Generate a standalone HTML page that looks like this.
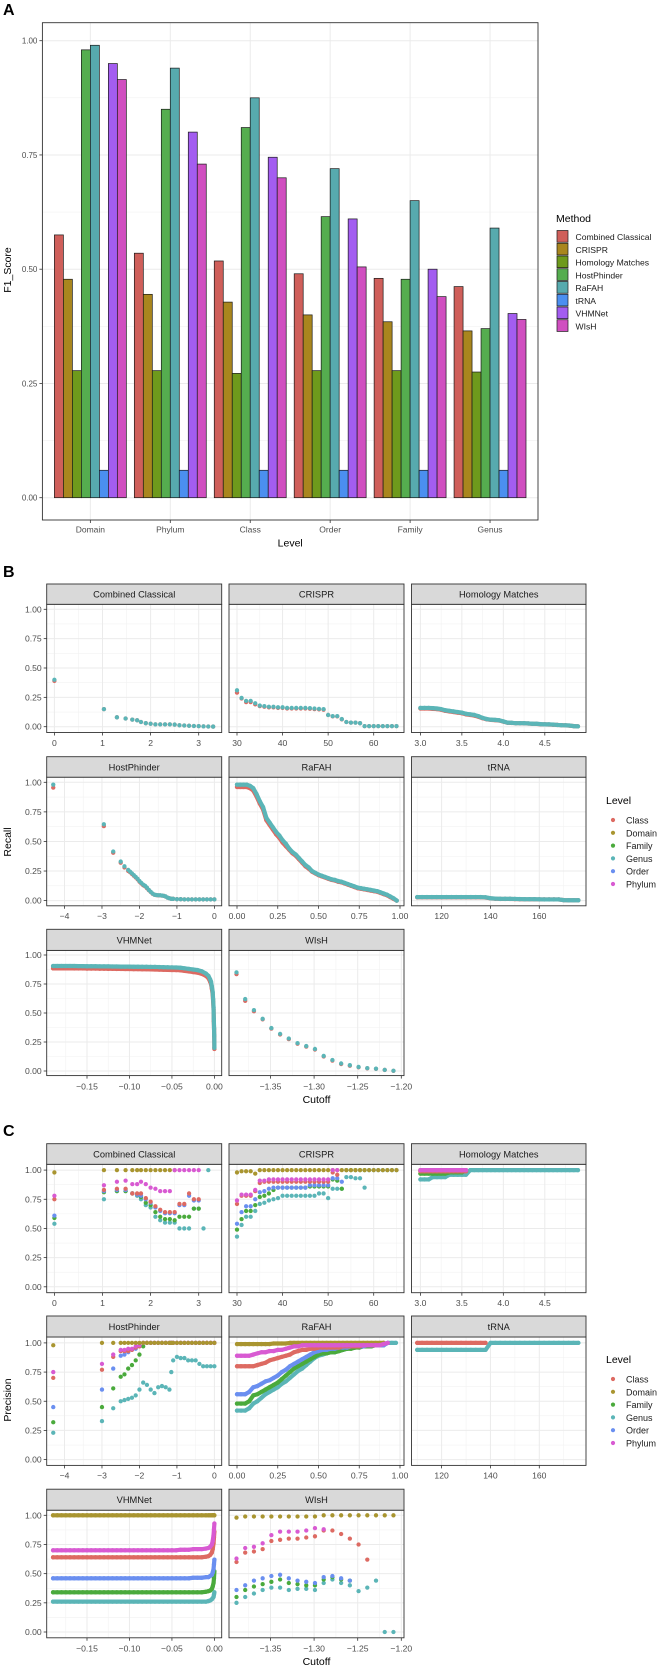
<!DOCTYPE html>
<html><head><meta charset="utf-8"><style>
html,body{margin:0;padding:0;background:#fff}
svg{display:block;font-family:"Liberation Sans",sans-serif}
</style></head><body>
<svg id="fig" width="664" height="1667" viewBox="0 0 664 1667" xmlns="http://www.w3.org/2000/svg"></svg>
<script>
// ---------- Panel A data ----------
const levelsA = ["Domain","Phylum","Class","Order","Family","Genus"];
const methods = ["Combined Classical","CRISPR","Homology Matches","HostPhinder","RaFAH","tRNA","VHMNet","WIsH"];
const f1CombinedClassical = [0.575,0.535,0.518,0.490,0.480,0.462];
const f1CRISPR = [0.478,0.445,0.428,0.400,0.385,0.365];
const f1Homology = [0.278,0.278,0.272,0.278,0.278,0.275];
const f1HostPhinder = [0.980,0.850,0.810,0.615,0.478,0.370];
const f1RaFAH = [0.990,0.940,0.875,0.720,0.650,0.590];
const f1tRNA = [0.060,0.060,0.060,0.060,0.060,0.060];
const f1VHMNet = [0.950,0.800,0.745,0.610,0.500,0.403];
const f1WIsH = [0.915,0.730,0.700,0.505,0.440,0.390];
const yTicksA = [0,0.25,0.5,0.75,1.0];
const yTickLabelsA = ["0.00","0.25","0.50","0.75","1.00"];

// ---------- Facet data (B: Recall, C: Precision) ----------
const levelNames = ["Class","Domain","Family","Genus","Order","Phylum"];
// Recall
const rCC_x = [0,1.03,1.3,1.48,1.62,1.72,1.8,1.9,2.0,2.1,2.2,2.3,2.4,2.5,2.6,2.7,2.8,2.9,3.0,3.1,3.2,3.3];
const rCC_genus = [0.40,0.15,0.08,0.07,0.06,0.055,0.04,0.03,0.025,0.02,0.02,0.02,0.02,0.018,0.012,0.01,0.008,0.006,0.005,0.003,0.002,0.001];
const rCC_class = [0.39,0.15,0.08,0.07,0.06,0.055,0.04,0.03,0.025,0.02,0.02,0.02,0.02,0.018,0.012,0.01,0.008,0.006,0.005,0.003,0.002,0.001];
const rCR_x = [30,31,32,33,34,35,36,37,38,39,40,41,42,43,44,45,46,47,48,49,50,51,52,53,54,55,56,57,58,59,60,61,62,63,64,65];
const rCR_genus = [0.31,0.245,0.22,0.22,0.20,0.18,0.175,0.17,0.17,0.165,0.165,0.16,0.16,0.16,0.16,0.16,0.158,0.155,0.152,0.15,0.10,0.09,0.09,0.065,0.04,0.035,0.035,0.03,0.005,0.005,0.005,0.005,0.005,0.005,0.005,0.005];
const rCR_class = [0.29,0.24,0.21,0.21,0.19,0.175,0.17,0.165,0.165,0.16,0.16,0.155,0.155,0.155,0.155,0.155,0.153,0.15,0.148,0.145,0.10,0.088,0.088,0.063,0.04,0.035,0.035,0.03,0.005,0.005,0.005,0.005,0.005,0.005,0.005,0.005];
const rHM_x = [3.0,3.05,3.1,3.15,3.2,3.25,3.3,3.35,3.4,3.45,3.5,3.55,3.6,3.65,3.7,3.75,3.8,3.85,3.9,3.95,4.0,4.05,4.1,4.15,4.2,4.25,4.3,4.35,4.4,4.45,4.5,4.55,4.6,4.65,4.7,4.75,4.8,4.85,4.9];
const rHM_genus = [0.16,0.16,0.16,0.158,0.155,0.15,0.14,0.135,0.13,0.125,0.12,0.11,0.105,0.10,0.09,0.075,0.065,0.06,0.058,0.055,0.045,0.035,0.033,0.03,0.03,0.03,0.028,0.025,0.025,0.022,0.02,0.02,0.018,0.015,0.013,0.012,0.01,0.005,0.003];
const rHM_class = [0.155,0.155,0.155,0.152,0.15,0.145,0.135,0.13,0.125,0.12,0.115,0.105,0.1,0.095,0.085,0.072,0.063,0.058,0.056,0.053,0.043,0.034,0.032,0.03,0.03,0.029,0.027,0.025,0.024,0.021,0.02,0.019,0.017,0.015,0.013,0.011,0.009,0.005,0.003];
const rHP_x = [-4.3,-2.95,-2.7,-2.5,-2.4,-2.3,-2.25,-2.2,-2.15,-2.1,-2.05,-2.0,-1.95,-1.9,-1.85,-1.8,-1.75,-1.7,-1.65,-1.6,-1.55,-1.5,-1.45,-1.4,-1.35,-1.3,-1.25,-1.2,-1.15,-1.1,-1.0,-0.9,-0.8,-0.7,-0.6,-0.5,-0.4,-0.3,-0.2,-0.1,0];
const rHP_genus = [0.98,0.645,0.415,0.33,0.29,0.26,0.245,0.23,0.215,0.2,0.185,0.165,0.15,0.135,0.125,0.11,0.09,0.075,0.06,0.05,0.047,0.045,0.045,0.043,0.04,0.035,0.025,0.02,0.015,0.015,0.012,0.012,0.01,0.01,0.01,0.01,0.01,0.01,0.01,0.01,0.01];
const rHP_class = [0.955,0.63,0.405,0.32,0.28,0.25,0.24,0.225,0.21,0.195,0.18,0.16,0.145,0.13,0.12,0.105,0.088,0.073,0.058,0.05,0.046,0.044,0.044,0.042,0.04,0.034,0.025,0.02,0.015,0.015,0.012,0.012,0.01,0.01,0.01,0.01,0.01,0.01,0.01,0.01,0.01];
const rRA_x = [0,0.02,0.04,0.06,0.08,0.1,0.12,0.14,0.16,0.18,0.2,0.22,0.24,0.26,0.28,0.3,0.32,0.34,0.36,0.38,0.4,0.42,0.44,0.46,0.48,0.5,0.52,0.54,0.56,0.58,0.6,0.62,0.64,0.66,0.68,0.7,0.72,0.74,0.76,0.78,0.8,0.82,0.84,0.86,0.88,0.9,0.92,0.94,0.96,0.98];
const rRA_genus = [0.98,0.98,0.98,0.98,0.97,0.95,0.90,0.84,0.79,0.70,0.66,0.62,0.58,0.55,0.51,0.48,0.44,0.41,0.39,0.36,0.33,0.30,0.28,0.25,0.235,0.22,0.21,0.20,0.19,0.18,0.175,0.165,0.16,0.15,0.14,0.13,0.12,0.11,0.105,0.10,0.095,0.09,0.085,0.08,0.07,0.06,0.05,0.035,0.02,0.0];
const rRA_class = [0.96,0.96,0.96,0.96,0.95,0.93,0.88,0.82,0.77,0.68,0.64,0.60,0.56,0.53,0.49,0.46,0.43,0.40,0.38,0.35,0.32,0.29,0.27,0.245,0.23,0.215,0.205,0.195,0.185,0.175,0.17,0.16,0.155,0.145,0.135,0.125,0.115,0.105,0.1,0.095,0.09,0.085,0.08,0.075,0.065,0.055,0.045,0.03,0.015,0.0];
const rTR_x = [110,112,114,116,118,120,122,124,126,128,130,132,134,136,138,140,142,144,146,148,150,152,154,156,158,160,162,164,166,168,170,172,174,176];
const rTR_genus = [0.03,0.03,0.03,0.03,0.03,0.03,0.03,0.03,0.03,0.03,0.03,0.03,0.03,0.03,0.028,0.02,0.017,0.015,0.015,0.015,0.014,0.013,0.012,0.012,0.012,0.011,0.01,0.01,0.01,0.01,0.004,0.003,0.003,0.003];
const rTR_class = [0.028,0.028,0.028,0.028,0.028,0.028,0.028,0.028,0.028,0.028,0.028,0.028,0.028,0.028,0.026,0.019,0.016,0.014,0.014,0.014,0.013,0.012,0.011,0.011,0.011,0.01,0.01,0.01,0.01,0.01,0.004,0.003,0.003,0.003];
const rVH_x = [-0.19,-0.185,-0.18,-0.175,-0.17,-0.165,-0.16,-0.155,-0.15,-0.145,-0.14,-0.135,-0.13,-0.125,-0.12,-0.115,-0.11,-0.105,-0.1,-0.095,-0.09,-0.085,-0.08,-0.075,-0.07,-0.065,-0.06,-0.055,-0.05,-0.045,-0.04,-0.035,-0.03,-0.025,-0.02,-0.015,-0.01,-0.007,-0.005,-0.004,-0.003,-0.002,-0.0015,-0.001,-0.0007,-0.0004,-0.0002,0];
const rVH_genus = [0.905,0.905,0.905,0.905,0.905,0.905,0.904,0.904,0.903,0.903,0.903,0.902,0.902,0.902,0.901,0.901,0.9,0.9,0.9,0.899,0.899,0.898,0.898,0.897,0.897,0.896,0.895,0.894,0.893,0.892,0.89,0.885,0.88,0.875,0.87,0.86,0.84,0.82,0.79,0.77,0.73,0.68,0.62,0.55,0.45,0.37,0.31,0.2];
const rVH_class = [0.885,0.885,0.885,0.885,0.885,0.884,0.884,0.884,0.883,0.883,0.883,0.882,0.882,0.881,0.881,0.88,0.88,0.879,0.879,0.878,0.878,0.877,0.877,0.876,0.875,0.874,0.873,0.872,0.871,0.87,0.868,0.863,0.858,0.853,0.848,0.838,0.82,0.80,0.77,0.75,0.71,0.66,0.60,0.53,0.43,0.36,0.30,0.19];
const rWI_x = [-1.389,-1.379,-1.369,-1.359,-1.349,-1.339,-1.329,-1.319,-1.309,-1.299,-1.289,-1.279,-1.269,-1.259,-1.249,-1.239,-1.229,-1.219,-1.209];
const rWI_genus = [0.85,0.62,0.525,0.45,0.37,0.32,0.28,0.24,0.215,0.19,0.13,0.095,0.065,0.05,0.035,0.025,0.02,0.01,0.002];
const rWI_class = [0.835,0.605,0.515,0.445,0.365,0.315,0.275,0.235,0.21,0.185,0.125,0.09,0.06,0.045,0.032,0.023,0.018,0.009,0.001];
// Precision
const pCC_x = [0,1.03,1.3,1.48,1.62,1.72,1.8,1.9,2.0,2.1,2.2,2.3,2.4,2.5,2.6,2.7,2.8,2.9,3.0,3.1,3.2];
const pCC_domain = [0.98,1,1,1,1,1,1,1,1,1,1,1,1,1,null,null,null,null,null,null,null];
const pCC_phylum = [0.78,0.87,0.90,0.91,0.88,0.88,0.90,0.88,0.85,0.84,0.82,0.82,0.82,1,1,1,1,1,1,null,null];
const pCC_class = [0.75,0.83,0.84,0.84,0.80,0.80,0.80,0.76,0.73,0.69,0.66,0.64,0.64,0.64,0.71,0.71,0.80,0.75,0.75,null,null];
const pCC_order = [0.61,0.82,0.83,0.83,0.80,0.79,0.78,0.75,0.72,0.68,0.65,0.63,0.63,0.63,0.70,0.70,0.78,0.74,0.74,null,null];
const pCC_family = [0.59,0.81,0.82,0.82,0.80,0.79,0.77,0.72,0.70,0.64,0.60,0.58,0.58,0.57,0.60,0.60,0.60,0.67,0.67,null,null];
const pCC_genus = [0.54,0.75,0.82,0.82,0.80,0.78,0.75,0.70,0.68,0.60,0.57,0.55,0.55,0.55,0.50,0.50,0.50,0.67,0.67,0.50,1.0];
const pCR_x = [30,31,32,33,34,35,36,37,38,39,40,41,42,43,44,45,46,47,48,49,50,51,52,53,54,55,56,57,58,59,60,61,62,63,64,65];
const pCR_domain = [0.98,0.99,0.99,0.99,0.97,1,1,1,1,1,1,1,1,1,1,1,1,1,1,1,1,1,1,1,1,1,1,1,1,1,1,1,1,1,1,1];
const pCR_phylum = [0.74,0.79,0.79,0.79,0.83,0.91,0.91,0.92,0.92,0.92,0.92,0.92,0.92,0.92,0.92,0.92,0.92,0.92,0.92,0.92,0.92,1,1,null,null,null,null,null,null,null,null,null,null,null,null,null];
const pCR_class = [0.71,0.78,0.78,0.78,0.82,0.89,0.90,0.90,0.90,0.90,0.90,0.90,0.90,0.90,0.90,0.90,0.90,0.90,0.90,0.90,0.90,0.98,0.96,null,null,null,null,null,null,null,null,null,null,null,null,null];
const pCR_order = [0.54,0.64,0.69,0.69,0.75,0.81,0.82,0.84,0.85,0.85,0.85,0.85,0.85,0.85,0.85,0.85,0.87,0.87,0.87,0.87,0.87,0.93,0.93,0.90,null,null,null,null,null,null,null,null,null,null,null,null];
const pCR_family = [0.49,0.58,0.65,0.65,0.70,0.77,0.78,0.80,0.83,0.85,0.85,0.85,0.85,0.85,0.85,0.85,0.86,0.86,0.86,0.86,0.86,0.92,0.91,0.84,1,1,1,1,1,null,null,null,null,null,null,null];
const pCR_genus = [0.43,0.53,0.60,0.60,0.65,0.71,0.72,0.74,0.75,0.76,0.78,0.78,0.78,0.78,0.78,0.78,0.78,0.78,0.80,0.80,0.76,0.84,0.84,0.84,0.94,0.94,0.93,0.93,0.85,1,1,1,1,1,1,1];
const pHM_x = [3.0,3.05,3.1,3.15,3.2,3.25,3.3,3.35,3.4,3.45,3.5,3.55,3.6,3.65,3.7,3.75,3.8,3.85,3.9,3.95,4.0,4.05,4.1,4.15,4.2,4.25,4.3,4.35,4.4,4.45,4.5,4.55,4.6,4.65,4.7,4.75,4.8,4.85,4.9];
const pHM_domain = [1,1,1,1,1,1,1,1,1,1,1,1,null,null,null,null,null,null,null,null,null,null,null,null,null,null,null,null,null,null,null,null,null,null,null,null,null,null,null];
const pHM_phylum = [1,1,1,1,1,1,1,1,1,1,1,1,null,null,null,null,null,null,null,null,null,null,null,null,null,null,null,null,null,null,null,null,null,null,null,null,null,null,null];
const pHM_class = [0.99,0.99,0.99,0.99,0.99,0.99,0.99,0.99,0.99,0.99,0.99,0.99,null,null,null,null,null,null,null,null,null,null,null,null,null,null,null,null,null,null,null,null,null,null,null,null,null,null,null];
const pHM_family = [0.97,0.97,0.97,0.97,0.97,0.97,0.97,0.98,0.98,0.98,0.98,1,null,null,null,null,null,null,null,null,null,null,null,null,null,null,null,null,null,null,null,null,null,null,null,null,null,null,null];
const pHM_genus = [0.92,0.92,0.92,0.94,0.94,0.94,0.94,0.96,0.96,0.96,0.96,0.96,1,1,1,1,1,1,1,1,1,1,1,1,1,1,1,1,1,1,1,1,1,1,1,1,1,1,1];
const pHP_x = [-4.3,-3.0,-2.7,-2.5,-2.4,-2.3,-2.2,-2.1,-2.0,-1.9,-1.8,-1.7,-1.6,-1.5,-1.4,-1.3,-1.2,-1.15,-1.1,-1.0,-0.9,-0.8,-0.7,-0.6,-0.5,-0.4,-0.3,-0.2,-0.1,0];
const pHP_domain = [0.98,1,1,1,1,1,1,1,1,1,1,1,1,1,1,1,1,1,1,1,1,1,1,1,1,1,1,1,1,1];
const pHP_phylum = [0.75,0.82,0.90,0.94,0.94,0.95,0.95,0.97,0.98,1,1,1,1,1,1,1,1,1,1,1,1,1,1,1,1,1,1,1,1,1];
const pHP_class = [0.70,0.77,0.88,0.93,0.93,0.93,0.94,0.96,0.97,1,1,1,1,1,1,1,1,1,1,1,1,1,1,1,1,1,1,1,1,1];
const pHP_order = [0.45,0.60,0.78,0.89,0.90,0.92,0.94,0.95,0.97,1,1,1,1,1,1,1,1,1,1,1,1,1,1,1,1,1,1,1,1,1];
const pHP_family = [0.32,0.45,0.61,0.71,0.73,0.78,0.81,0.85,0.90,0.97,1,1,1,1,1,1,1,1,1,1,1,1,1,1,1,1,1,1,1,1];
const pHP_genus = [0.23,0.33,0.44,0.50,0.51,0.52,0.53,0.55,0.60,0.66,0.64,0.60,0.57,0.62,0.63,0.62,0.60,0.75,0.85,0.88,0.87,0.87,0.85,0.85,0.85,0.82,0.80,0.80,0.80,0.80];
const pRA_x = [0,0.025,0.05,0.075,0.1,0.125,0.15,0.175,0.2,0.225,0.25,0.275,0.3,0.325,0.35,0.375,0.4,0.425,0.45,0.475,0.5,0.525,0.55,0.575,0.6,0.625,0.65,0.675,0.7,0.725,0.75,0.775,0.8,0.825,0.85,0.875,0.9,0.925,0.95,0.975];
const pRA_domain = [0.99,0.99,0.99,0.99,0.99,0.99,0.99,0.99,0.99,0.995,0.995,0.995,0.995,1,1,1,1,1,1,1,1,1,1,1,1,1,1,1,1,1,1,1,1,1,1,1,1,null,null,null];
const pRA_phylum = [0.89,0.89,0.89,0.89,0.90,0.91,0.92,0.92,0.93,0.93,0.94,0.94,0.95,0.96,0.97,0.97,0.98,0.98,0.98,0.98,0.98,0.98,0.98,0.98,0.98,0.98,0.98,0.98,0.98,0.98,0.98,0.98,0.98,0.98,0.98,0.98,0.99,1,null,null];
const pRA_class = [0.80,0.80,0.80,0.80,0.80,0.81,0.82,0.83,0.85,0.86,0.87,0.88,0.89,0.90,0.92,0.93,0.94,0.94,0.95,0.95,0.96,0.96,0.96,0.96,0.96,0.96,0.97,0.97,0.97,0.97,0.97,0.98,0.98,0.98,0.98,0.99,1,null,null,null];
const pRA_order = [0.56,0.56,0.56,0.58,0.62,0.63,0.65,0.67,0.68,0.70,0.72,0.75,0.77,0.80,0.82,0.84,0.86,0.88,0.90,0.92,0.93,0.94,0.94,0.95,0.95,0.96,0.96,0.96,0.97,0.97,0.97,0.97,0.98,0.98,0.98,0.98,0.98,1,null,null];
const pRA_family = [0.48,0.48,0.48,0.50,0.55,0.56,0.58,0.60,0.62,0.64,0.66,0.69,0.72,0.75,0.78,0.80,0.82,0.84,0.86,0.88,0.90,0.91,0.91,0.92,0.92,0.93,0.94,0.95,0.95,0.96,0.96,0.97,0.97,0.97,0.98,0.98,0.98,null,null,null];
const pRA_genus = [0.42,0.42,0.42,0.44,0.48,0.50,0.53,0.56,0.58,0.60,0.62,0.65,0.67,0.70,0.73,0.76,0.78,0.81,0.84,0.87,0.89,0.90,0.91,0.92,0.92,0.93,0.94,0.95,0.96,0.97,0.97,0.97,0.98,0.98,0.98,0.98,0.99,1,1,1];
const pTR_x = [110,112,114,116,118,120,122,124,126,128,130,132,134,136,138,140,142,144,146,148,150,152,154,156,158,160,162,164,166,168,170,172,174,176];
const pTR_class = [1,1,1,1,1,1,1,1,1,1,1,1,1,1,1,null,null,null,null,null,null,null,null,null,null,null,null,null,null,null,null,null,null,null];
const pTR_genus = [0.94,0.94,0.94,0.94,0.94,0.94,0.94,0.94,0.94,0.94,0.94,0.94,0.94,0.94,0.94,1,1,1,1,1,1,1,1,1,1,1,1,1,1,1,1,1,1,1];
const pVH_x = [-0.19,-0.185,-0.18,-0.175,-0.17,-0.165,-0.16,-0.155,-0.15,-0.145,-0.14,-0.135,-0.13,-0.125,-0.12,-0.115,-0.11,-0.105,-0.1,-0.095,-0.09,-0.085,-0.08,-0.075,-0.07,-0.065,-0.06,-0.055,-0.05,-0.045,-0.04,-0.035,-0.03,-0.025,-0.02,-0.015,-0.01,-0.007,-0.005,-0.003,-0.002,-0.001,-0.0005,0];
const pVH_domain = [1,1,1,1,1,1,1,1,1,1,1,1,1,1,1,1,1,1,1,1,1,1,1,1,1,1,1,1,1,1,1,1,1,1,1,1,1,1,1,1,1,1,1,1];
const pVH_phylum = [0.70,0.70,0.70,0.70,0.70,0.70,0.70,0.70,0.70,0.70,0.70,0.70,0.70,0.70,0.70,0.70,0.70,0.70,0.70,0.70,0.70,0.70,0.70,0.70,0.70,0.70,0.70,0.70,0.70,0.70,0.705,0.705,0.705,0.71,0.71,0.71,0.715,0.72,0.73,0.75,0.78,0.83,0.88,0.93];
const pVH_class = [0.64,0.64,0.64,0.64,0.64,0.64,0.64,0.64,0.64,0.64,0.64,0.64,0.64,0.64,0.64,0.64,0.64,0.64,0.64,0.64,0.64,0.64,0.64,0.64,0.64,0.64,0.64,0.64,0.64,0.64,0.64,0.64,0.64,0.64,0.64,0.64,0.645,0.65,0.66,0.68,0.71,0.76,0.81,0.86];
const pVH_order = [0.46,0.46,0.46,0.46,0.46,0.46,0.46,0.46,0.46,0.46,0.46,0.46,0.46,0.46,0.46,0.46,0.46,0.46,0.46,0.46,0.46,0.46,0.46,0.46,0.46,0.46,0.46,0.46,0.46,0.46,0.46,0.46,0.46,0.465,0.465,0.465,0.47,0.47,0.48,0.49,0.51,0.54,0.58,0.62];
const pVH_family = [0.34,0.34,0.34,0.34,0.34,0.34,0.34,0.34,0.34,0.34,0.34,0.34,0.34,0.34,0.34,0.34,0.34,0.34,0.34,0.34,0.34,0.34,0.34,0.34,0.34,0.34,0.34,0.34,0.34,0.34,0.34,0.34,0.34,0.34,0.34,0.34,0.345,0.35,0.355,0.37,0.39,0.42,0.46,0.52];
const pVH_genus = [0.26,0.26,0.26,0.26,0.26,0.26,0.26,0.26,0.26,0.26,0.26,0.26,0.26,0.26,0.26,0.26,0.26,0.26,0.26,0.26,0.26,0.26,0.26,0.26,0.26,0.26,0.26,0.26,0.26,0.26,0.26,0.26,0.26,0.26,0.26,0.26,0.26,0.265,0.27,0.28,0.29,0.30,0.32,0.34];
const pWI_x = [-1.389,-1.379,-1.369,-1.359,-1.349,-1.339,-1.329,-1.319,-1.309,-1.299,-1.289,-1.279,-1.269,-1.259,-1.249,-1.239,-1.229,-1.219,-1.209];
const pWI_domain = [0.98,0.99,0.99,0.99,0.99,0.99,0.99,0.99,0.99,0.99,1,1,1,1,1,1,1,1,1];
const pWI_phylum = [0.63,0.72,0.73,0.76,0.83,0.86,0.86,0.86,0.87,0.89,0.88,null,null,null,null,null,null,null,null];
const pWI_class = [0.60,0.68,0.69,0.71,0.78,0.79,0.80,0.80,0.81,0.82,0.87,0.87,0.84,0.80,0.75,0.62,null,null,null];
const pWI_order = [0.36,0.40,0.44,0.46,0.48,0.49,0.46,0.44,0.43,0.42,0.47,0.48,0.46,0.44,null,null,null,null,null];
const pWI_family = [0.30,0.36,0.39,0.41,0.43,0.45,0.42,0.41,0.40,0.40,0.45,0.47,0.45,0.44,null,null,null,null,null];
const pWI_genus = [0.25,0.30,0.33,0.36,0.38,0.38,0.36,0.37,0.37,0.36,0.42,0.45,0.42,0.40,0.35,0.38,0.44,0.0,0.0];

// x tick values & labels per facet
const ticksCC = [0,1,2,3];            const tickLabCC = ["0","1","2","3"];
const ticksCR = [30,40,50,60];        const tickLabCR = ["30","40","50","60"];
const ticksHM = [3.0,3.5,4.0,4.5];    const tickLabHM = ["3.0","3.5","4.0","4.5"];
const ticksHP = [-4,-3,-2,-1,0];      const tickLabHP = ["\u22124","\u22123","\u22122","\u22121","0"];
const ticksRA = [0,0.25,0.5,0.75,1];  const tickLabRA = ["0.00","0.25","0.50","0.75","1.00"];
const ticksTR = [120,140,160];        const tickLabTR = ["120","140","160"];
const ticksVH = [-0.15,-0.10,-0.05,0];const tickLabVH = ["\u22120.15","\u22120.10","\u22120.05","0.00"];
const ticksWI = [-1.35,-1.30,-1.25,-1.20]; const tickLabWI = ["\u22121.35","\u22121.30","\u22121.25","\u22121.20"];
const yTicksF = [0,0.25,0.5,0.75,1.0];
const yTickLabF = ["0.00","0.25","0.50","0.75","1.00"];

// ---------- drawing ----------
const NS = "http://www.w3.org/2000/svg";
const svg = document.getElementById("fig");
function mk(tag, attrs, parent){
  const e = document.createElementNS(NS, tag);
  for (const k in attrs) e.setAttribute(k, attrs[k]);
  (parent||svg).appendChild(e);
  return e;
}
function txt(s, attrs, parent){ const t = mk("text", attrs, parent); t.textContent = s; return t; }
function lin(d0,d1,r0,r1){ return v => r0 + (v-d0)*(r1-r0)/(d1-d0); }

const methodColors = ["#cf5f5a","#a9861e","#6e9a1c","#55ad4f","#57aaae","#4b8ff0","#a35df0","#d04fc0"];
const levelColors = {Class:"#dd6a62",Domain:"#a99530",Family:"#4aaa3c",Genus:"#5bb5b7",Order:"#6a8ff0",Phylum:"#d85ad2"};

// ===== Panel A =====
const gA = mk("g",{});


let t = txt("A",{x:3,y:15,"font-size":16,"font-weight":"bold",fill:"#000"},gA);
 
const aL=42.4,aR=538,aT=22.7,aB=520;
const yA = lin(0,1,497.7,40.7);
const step = (aR-aL)/6.2;
const xA = i => aL + step*(0.6+i);
for (let v=0.125; v<1.1; v+=0.25){ mk("line",{x1:aL,x2:aR,y1:yA(v),y2:yA(v),stroke:"#f2f2f2","stroke-width":0.6},gA); }
yTicksA.forEach(v=>{ mk("line",{x1:aL,x2:aR,y1:yA(v),y2:yA(v),stroke:"#ebebeb","stroke-width":1},gA); });
levelsA.forEach((l,i)=>{ mk("line",{x1:xA(i),x2:xA(i),y1:aT,y2:aB,stroke:"#ebebeb","stroke-width":1},gA); });
const seriesA = [f1CombinedClassical,f1CRISPR,f1Homology,f1HostPhinder,f1RaFAH,f1tRNA,f1VHMNet,f1WIsH];
const bw = step*0.9/8;
seriesA.forEach((ser,m)=>{
  ser.forEach((v,i)=>{
    const x = xA(i) - step*0.45 + m*bw;
    const r = mk("rect",{x:x,y:yA(v),width:bw,height:yA(0)-yA(v),fill:methodColors[m],stroke:"#1a1a1a","stroke-width":0.7},gA);
    
    
  });
});
mk("rect",{x:aL,y:aT,width:aR-aL,height:aB-aT,fill:"none",stroke:"#333","stroke-width":0.9},gA);
yTicksA.forEach((v,i)=>{
  mk("line",{x1:aL-3,x2:aL,y1:yA(v),y2:yA(v),stroke:"#333","stroke-width":0.8},gA);
  const tt = txt(yTickLabelsA[i],{x:aL-5,y:yA(v)+3,"font-size":8,"text-anchor":"end",fill:"#4d4d4d"},gA);
   
});
levelsA.forEach((l,i)=>{
  mk("line",{x1:xA(i),x2:xA(i),y1:aB,y2:aB+3,stroke:"#333","stroke-width":0.8},gA);
  const tt = txt(l,{x:xA(i),y:532.5,"font-size":8.5,"text-anchor":"middle",fill:"#4d4d4d"},gA);
   
});
t = txt("Level",{x:(aL+aR)/2,y:546.5,"font-size":10.5,"text-anchor":"middle",fill:"#000"},gA);
 
t = txt("F1_Score",{x:0,y:0,"font-size":10.5,"text-anchor":"middle",fill:"#000",transform:"translate(11,270) rotate(-90)"},gA);
 
t = txt("Method",{x:556,y:222,"font-size":10.5,fill:"#000"},gA);
 
methods.forEach((m,i)=>{
  const y = 230 + i*12.75;
  const r = mk("rect",{x:557,y:y+0.5,width:11,height:11.7,fill:methodColors[i],stroke:"#1a1a1a","stroke-width":0.7},gA);
   
  const tt = txt(m,{x:575.5,y:y+10,"font-size":8.6,fill:"#1a1a1a"},gA);
   
});

// ===== Facet grids =====
const cols = [[46.7,221.7],[229,404],[411.5,586]];
const xMaps = {
  CC: lin(0,3,54.4,198.7), CR: lin(30,60,237,373.7), HM: lin(3,4.5,420.4,544.8),
  HP: lin(-4,0,64.5,214.4), RA: lin(0,1,237,400), TR: lin(120,160,441.6,539.3),
  VH: lin(-0.15,0,87,214.4), WI: lin(-1.35,-1.2,270.5,401.3)
};
const facetInfo = [
  {key:"CC",name:"Combined Classical",col:0,row:0,ticks:ticksCC,labs:tickLabCC},
  {key:"CR",name:"CRISPR",col:1,row:0,ticks:ticksCR,labs:tickLabCR},
  {key:"HM",name:"Homology Matches",col:2,row:0,ticks:ticksHM,labs:tickLabHM},
  {key:"HP",name:"HostPhinder",col:0,row:1,ticks:ticksHP,labs:tickLabHP},
  {key:"RA",name:"RaFAH",col:1,row:1,ticks:ticksRA,labs:tickLabRA},
  {key:"TR",name:"tRNA",col:2,row:1,ticks:ticksTR,labs:tickLabTR},
  {key:"VH",name:"VHMNet",col:0,row:2,ticks:ticksVH,labs:tickLabVH},
  {key:"WI",name:"WIsH",col:1,row:2,ticks:ticksWI,labs:tickLabWI}
];
const denseFacets = ["HM","RA","TR","VH"];
const rowsB = [[584,604.3,609.3,726.7,732.5,746],[756.7,777.2,782.3,900.6,905.8,919],[929.3,950.4,955,1071,1075.6,1089.5]];
const rowsC = [[1143.7,1164.3,1170.1,1286.8,1292.7,1306],[1316,1337,1342.9,1459.6,1465.4,1478.6],[1489.2,1510.2,1515.3,1632,1637.8,1651.3]];

const recallData = {
  CC:{x:rCC_x,Class:rCC_class,Genus:rCC_genus},
  CR:{x:rCR_x,Class:rCR_class,Genus:rCR_genus},
  HM:{x:rHM_x,Class:rHM_class,Genus:rHM_genus},
  HP:{x:rHP_x,Class:rHP_class,Genus:rHP_genus},
  RA:{x:rRA_x,Class:rRA_class,Genus:rRA_genus},
  TR:{x:rTR_x,Class:rTR_class,Genus:rTR_genus},
  VH:{x:rVH_x,Class:rVH_class,Genus:rVH_genus},
  WI:{x:rWI_x,Class:rWI_class,Genus:rWI_genus}
};
const precData = {
  CC:{x:pCC_x,Genus:pCC_genus,Family:pCC_family,Order:pCC_order,Class:pCC_class,Domain:pCC_domain,Phylum:pCC_phylum},
  CR:{x:pCR_x,Genus:pCR_genus,Family:pCR_family,Order:pCR_order,Class:pCR_class,Domain:pCR_domain,Phylum:pCR_phylum},
  HM:{x:pHM_x,Genus:pHM_genus,Family:pHM_family,Class:pHM_class,Domain:pHM_domain,Phylum:pHM_phylum},
  HP:{x:pHP_x,Genus:pHP_genus,Family:pHP_family,Order:pHP_order,Class:pHP_class,Phylum:pHP_phylum,Domain:pHP_domain},
  RA:{x:pRA_x,Genus:pRA_genus,Family:pRA_family,Order:pRA_order,Class:pRA_class,Domain:pRA_domain,Phylum:pRA_phylum},
  TR:{x:pTR_x,Genus:pTR_genus,Class:pTR_class},
  VH:{x:pVH_x,Genus:pVH_genus,Family:pVH_family,Order:pVH_order,Class:pVH_class,Phylum:pVH_phylum,Domain:pVH_domain},
  WI:{x:pWI_x,Genus:pWI_genus,Family:pWI_family,Order:pWI_order,Class:pWI_class,Domain:pWI_domain,Phylum:pWI_phylum}
};

function drawGrid(panelName, rows, data, yTitle, yTitleY, legendY, label, labelY){
  const g = mk("g",{});
  
  
  let l = txt(label,{x:3,y:labelY,"font-size":16,"font-weight":"bold",fill:"#000"},g);
   
  facetInfo.forEach(f=>{
    const [cL,cR] = cols[f.col];
    const [sT,sB,y1,y0,pB,tlY] = rows[f.row];
    const yS = lin(0,1,y0,y1);
    const xS = xMaps[f.key];
    const fg = mk("g",{},g);
    
    
    const minorX = [];
    for (let i=0;i<f.ticks.length-1;i++) minorX.push((f.ticks[i]+f.ticks[i+1])/2);
    minorX.push(f.ticks[0]-(f.ticks[1]-f.ticks[0])/2);
    minorX.push(f.ticks[f.ticks.length-1]+(f.ticks[1]-f.ticks[0])/2);
    minorX.forEach(v=>{ const px=xS(v); if(px>cL&&px<cR) mk("line",{x1:px,x2:px,y1:sB,y2:pB,stroke:"#f2f2f2","stroke-width":0.6},fg); });
    [0.125,0.375,0.625,0.875,1.125].forEach(v=>{ const py=yS(v); if(py>sB) mk("line",{x1:cL,x2:cR,y1:py,y2:py,stroke:"#f2f2f2","stroke-width":0.6},fg); });
    yTicksF.forEach(v=>mk("line",{x1:cL,x2:cR,y1:yS(v),y2:yS(v),stroke:"#ebebeb","stroke-width":1},fg));
    f.ticks.forEach(v=>mk("line",{x1:xS(v),x2:xS(v),y1:sB,y2:pB,stroke:"#ebebeb","stroke-width":1},fg));
    const d = data[f.key];
    const dense = denseFacets.indexOf(f.key) >= 0;
    Object.keys(d).forEach(lv=>{
      if (lv==="x") return;
      const ys = d[lv];
      if (dense){
        let seg = [];
        const flush = ()=>{
          if (seg.length>1){
            const pl = mk("polyline",{points:seg.join(" "),fill:"none",stroke:levelColors[lv],"stroke-width":4.2,"stroke-linecap":"round","stroke-linejoin":"round"},fg);
            
            
          }
          seg = [];
        };
        ys.forEach((v,i)=>{ if (v===null) flush(); else seg.push(xS(d.x[i])+","+yS(v)); });
        flush();
      }
      ys.forEach((v,i)=>{
        if (v===null) return;
        const c = mk("circle",{cx:xS(d.x[i]),cy:yS(v),r:2.15,fill:levelColors[lv]},fg);
        
        
      });
    });
    mk("rect",{x:cL,y:sB,width:cR-cL,height:pB-sB,fill:"none",stroke:"#333","stroke-width":0.9},fg);
    const st = mk("rect",{x:cL,y:sT,width:cR-cL,height:sB-sT,fill:"#d9d9d9",stroke:"#333","stroke-width":0.9},fg);
     
    const stt = txt(f.name,{x:(cL+cR)/2,y:(sT+sB)/2+3.4,"font-size":9.3,"text-anchor":"middle",fill:"#1a1a1a"},fg);
     
    f.ticks.forEach((v,i)=>{
      mk("line",{x1:xS(v),x2:xS(v),y1:pB,y2:pB+3,stroke:"#333","stroke-width":0.8},fg);
      const tt = txt(f.labs[i],{x:xS(v),y:tlY,"font-size":8.6,"text-anchor":"middle",fill:"#4d4d4d"},fg);
       
    });
    if (f.col===0){
      yTicksF.forEach((v,i)=>{
        mk("line",{x1:cL-3,x2:cL,y1:yS(v),y2:yS(v),stroke:"#333","stroke-width":0.8},fg);
        const tt = txt(yTickLabF[i],{x:cL-5,y:yS(v)+3,"font-size":8.6,"text-anchor":"end",fill:"#4d4d4d"},fg);
         
      });
    }
  });
  const xt = txt("Cutoff",{x:316.5,y:rows[2][5]+13.5,"font-size":10.5,"text-anchor":"middle",fill:"#000"},g);
   
  const yt = txt(yTitle,{x:0,y:0,"font-size":10.5,"text-anchor":"middle",fill:"#000",transform:"translate(11,"+yTitleY+") rotate(-90)"},g);
   
  const lt = txt("Level",{x:606,y:legendY,"font-size":10.5,fill:"#000"},g);
   
  levelNames.forEach((lv,i)=>{
    const y = legendY + 19.5 + i*12.8;
    const c = mk("circle",{cx:613,cy:y-3.5,r:2.1,fill:levelColors[lv]},g);
     
    const tt = txt(lv,{x:626,y:y,"font-size":9,fill:"#1a1a1a"},g);
     
  });
}
drawGrid('panel-b-recall-facets', rowsB, recallData, "Recall", 842, 804, "B", 577);
drawGrid('panel-c-precision-facets', rowsC, precData, "Precision", 1400, 1363, "C", 1136);
</script>
</body></html>
